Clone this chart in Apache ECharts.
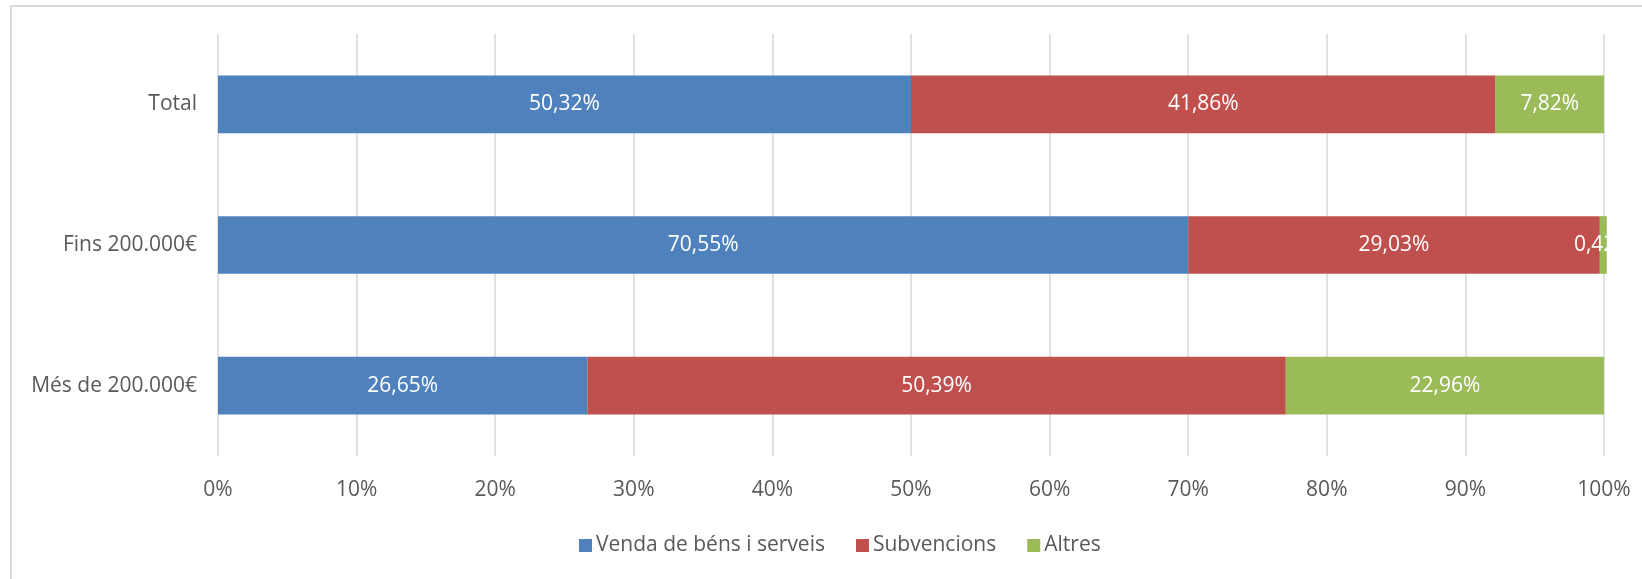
<!DOCTYPE html>
<html>
<head>
<meta charset="utf-8">
<script src="https://cdn.jsdelivr.net/npm/echarts@6/dist/echarts.min.js"></script>
<style>
  html, body { margin: 0; padding: 0; background: #fff; overflow: hidden; }
  #frame {
    position: absolute; left: 10px; top: 5px; width: 1700px; height: 700px;
    border: 2px solid #d9d9d9; box-sizing: border-box;
  }
  #chart { position: absolute; left: 0; top: 0; width: 1642px; height: 579px; }
</style>
</head>
<body>
<div id="frame"></div>
<div id="chart"></div>
<script>
// categories, top to bottom
const categories = ["Total", "Fins 200.000€", "Més de 200.000€"]
const seriesNames = ["Venda de béns i serveis", "Subvencions", "Altres"]

// bar lengths as drawn in the picture
const venda = [50.0, 70.0, 26.65]
const subvencions = [42.18, 29.7, 50.39]
const altres = [7.82, 0.5, 22.96]

// values printed in the data labels
const vendaLabels = [50.32, 70.55, 26.65]
const subvencionsLabels = [41.86, 29.03, 50.39]
const altresLabels = [7.82, 0.42, 22.96]

const tickValues = [0, 10, 20, 30, 40, 50, 60, 70, 80, 90, 100]

const colors = ["#4F81BD", "#C0504D", "#9BBB59"]
const font = "'Open Sans', sans-serif"
const textColor = "#595959"

function pct(v) {
  return v.toFixed(2).replace(".", ",") + "%"
}

const chart = echarts.init(document.getElementById("chart"))

const seriesData = [venda, subvencions, altres]
const labelData = [vendaLabels, subvencionsLabels, altresLabels]

chart.setOption({
  backgroundColor: "transparent",
  animation: false,
  color: colors,
  grid: {
    left: 218,
    right: 38,
    top: 34,
    bottom: 123,
  },
  xAxis: {
    type: "value",
    min: tickValues[0],
    max: tickValues[tickValues.length - 1],
    interval: 10,
    axisLine: { show: false },
    axisTick: { show: false },
    axisLabel: {
      color: textColor,
      fontFamily: font,
      fontSize: 21,
      margin: 24,
      formatter: function (value) {
        return value + "%"
      },
    },
    splitLine: {
      show: true,
      lineStyle: { color: "#d9d9d9", width: 1.5 },
    },
  },
  yAxis: {
    type: "category",
    data: categories,
    inverse: true,
    axisLine: { show: false },
    axisTick: { show: false },
    axisLabel: {
      color: textColor,
      fontFamily: font,
      fontSize: 21,
      margin: 21,
    },
  },
  legend: {
    data: seriesNames,
    left: 574,
    top: 530,
    icon: "rect",
    itemWidth: 13,
    itemHeight: 13,
    itemGap: 31,
    textStyle: {
      color: textColor,
      fontFamily: font,
      fontSize: 21,
      padding: [0, 0, 0, -1],
    },
  },
  series: seriesNames.map(function (name, i) {
    return {
      name: name,
      type: "bar",
      stack: "total",
      data: seriesData[i],
      barCategoryGap: "59%",
      clip: false,
      label: {
        show: true,
        position: "inside",
        color: "#fff",
        fontFamily: font,
        fontSize: 21,
        formatter: function (params) {
          return pct(labelData[i][params.dataIndex])
        },
      },
    }
  }),
})
</script>
</body>
</html>
